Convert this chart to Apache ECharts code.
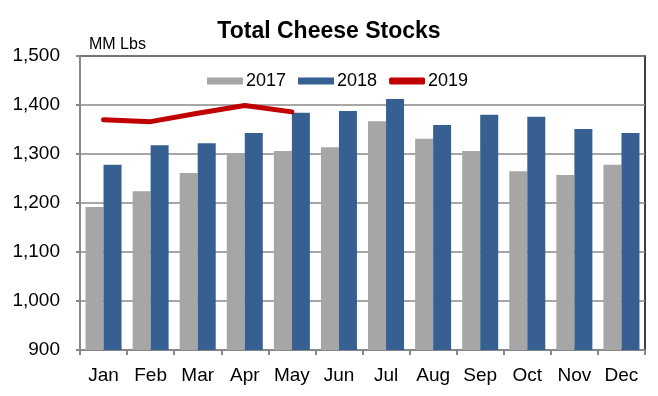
<!DOCTYPE html>
<html>
<head>
<meta charset="utf-8">
<script src="https://cdn.jsdelivr.net/npm/echarts@6/dist/echarts.min.js"></script>
<style>
html,body{margin:0;padding:0;background:#fff;}
#main{width:658px;height:396px;}
</style>
</head>
<body>
<div id="main"></div>
<script>
var months = ['Jan','Feb','Mar','Apr','May','Jun','Jul','Aug','Sep','Oct','Nov','Dec'];
var stocks2017 = [1192,1224,1261,1301,1306,1314,1367,1331,1306,1265,1257,1278];
var stocks2018 = [1278,1318,1322,1343,1384,1388,1412,1359,1380,1376,1351,1343];
var stocks2019 = [1370,1366,1383,1399,1386];

var myChart = echarts.init(document.getElementById('main'));
var font = 'Liberation Sans, Arial, sans-serif';
var option = {
	backgroundColor: '#fff',
	animation: false,
	title: {
		text: 'Total Cheese Stocks',
		left: 'center',
		top: 15,
		textStyle: { color: '#000', fontSize: 23, fontWeight: 'bold', fontFamily: font }
	},
	graphic: [{
		type: 'text',
		left: 89,
		top: 37,
		style: { text: 'MM Lbs', fontSize: 16, fontFamily: font, fill: '#000' }
	}],
	legend: {
		left: 207,
		top: 72,
		padding: 0,
		itemWidth: 36,
		itemHeight: 7,
		itemGap: 12,
		textStyle: { color: '#000', fontSize: 18, fontFamily: font, padding: [0, 0, 0, -2] },
		data: [
			{ name: '2017', icon: 'rect' },
			{ name: '2018', icon: 'rect' },
			{ name: '2019', icon: 'roundRect' }
		]
	},
	grid: {
		left: 80, right: 13, top: 56, bottom: 46,
		show: true,
		borderColor: '#000',
		borderWidth: 1.5
	},
	xAxis: {
		type: 'category',
		data: months,
		axisLine: { lineStyle: { color: '#888', width: 2 } },
		axisTick: { show: true, length: 5, lineStyle: { color: '#888', width: 2 } },
		axisLabel: { color: '#000', fontSize: 19, fontFamily: font, margin: 16 }
	},
	yAxis: {
		type: 'value',
		min: 900,
		max: 1500,
		interval: 100,
		axisLine: { show: true, lineStyle: { color: '#888', width: 2 } },
		axisTick: { show: true, length: 4, lineStyle: { color: '#888', width: 2 } },
		splitLine: { lineStyle: { color: '#888', width: 1.5 } },
		axisLabel: {
			color: '#000', fontSize: 19, fontFamily: font, margin: 20,
			formatter: function (v) { return v.toString().replace(/\B(?=(\d{3})+(?!\d))/g, ','); }
		}
	},
	series: [{
		name: '2017',
		type: 'bar',
		data: stocks2017,
		barWidth: 18,
		barGap: '0%',
		itemStyle: { color: '#a6a6a6' }
	}, {
		name: '2018',
		type: 'bar',
		data: stocks2018,
		barWidth: 18,
		barGap: '0%',
		itemStyle: { color: '#376092' }
	}, {
		name: '2019',
		type: 'line',
		data: stocks2019,
		symbol: 'none',
		z: 5,
		itemStyle: { color: '#c00000' },
		lineStyle: { color: '#c00000', width: 5, cap: 'round', join: 'round' }
	}]
};
myChart.setOption(option);
</script>
</body>
</html>
